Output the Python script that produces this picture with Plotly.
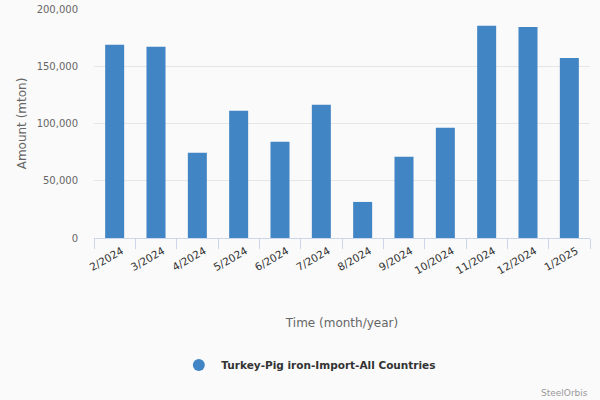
import plotly.graph_objects as go

months = ["2/2024", "3/2024", "4/2024", "5/2024", "6/2024", "7/2024",
          "8/2024", "9/2024", "10/2024", "11/2024", "12/2024", "1/2025"]
amounts = [168700, 167000, 74500, 111200, 84000, 116300,
           31500, 71000, 96300, 185300, 184300, 157300]
series_name = "Turkey-Pig iron-Import-All Countries"
bar_color = "#4285c4"
font_family = "DejaVu Sans, Verdana, sans-serif"

fig = go.Figure()
fig.add_trace(go.Bar(x=months, y=amounts, marker_color=bar_color,
                     marker_line_width=0, showlegend=False, name=series_name))
fig.add_trace(go.Scatter(x=[None], y=[None], mode="markers", name="<b>" + series_name + "</b>",
                         marker=dict(symbol="circle", size=12, color=bar_color)))

fig.update_layout(
    width=600, height=400,
    paper_bgcolor="#fafafa", plot_bgcolor="#fafafa",
    margin=dict(l=94, r=10, t=9, b=162, autoexpand=False),
    bargap=0.54,
    font=dict(family=font_family, size=11, color="#666666"),
    showlegend=True,
    legend=dict(orientation="h", x=0.166, xanchor="left", y=-0.555, yanchor="middle",
                font=dict(family=font_family, size=10.5, color="#333333"),
                itemwidth=35, bgcolor="rgba(0,0,0,0)"),
    xaxis=dict(
        type="category", tickangle=-30, showgrid=False, automargin=False,
        showline=True, linecolor="#ccd6eb", linewidth=1,
        ticks="outside", tickson="boundaries", ticklen=10, tickcolor="#ccd6eb",
        ticklabelshift=7, ticklabelstandoff=2,
        tickfont=dict(size=10.5, color="#333333"),
        title=dict(text="Time (month/year)", font=dict(size=12, color="#666666"), standoff=43),
    ),
    yaxis=dict(
        range=[0, 200000], tickvals=[0, 50000, 100000, 150000, 200000],
        tickformat=",", showgrid=True, gridcolor="#e6e6e6", zeroline=False,
        showline=False, automargin=False, ticklabelstandoff=15,
        tickfont=dict(size=10, color="#666666"),
        title=dict(text="Amount (mton)", font=dict(size=12, color="#666666"), standoff=7),
    ),
    annotations=[dict(text="SteelOrbis", xref="paper", yref="paper", x=1.0, y=-0.676,
                      xanchor="right", yanchor="middle", showarrow=False,
                      font=dict(size=9, color="#999999"))],
)
fig.write_html("out.html", config={"displayModeBar": False},
               post_script="document.body.style.margin='0';document.body.style.background='#fafafa';")
